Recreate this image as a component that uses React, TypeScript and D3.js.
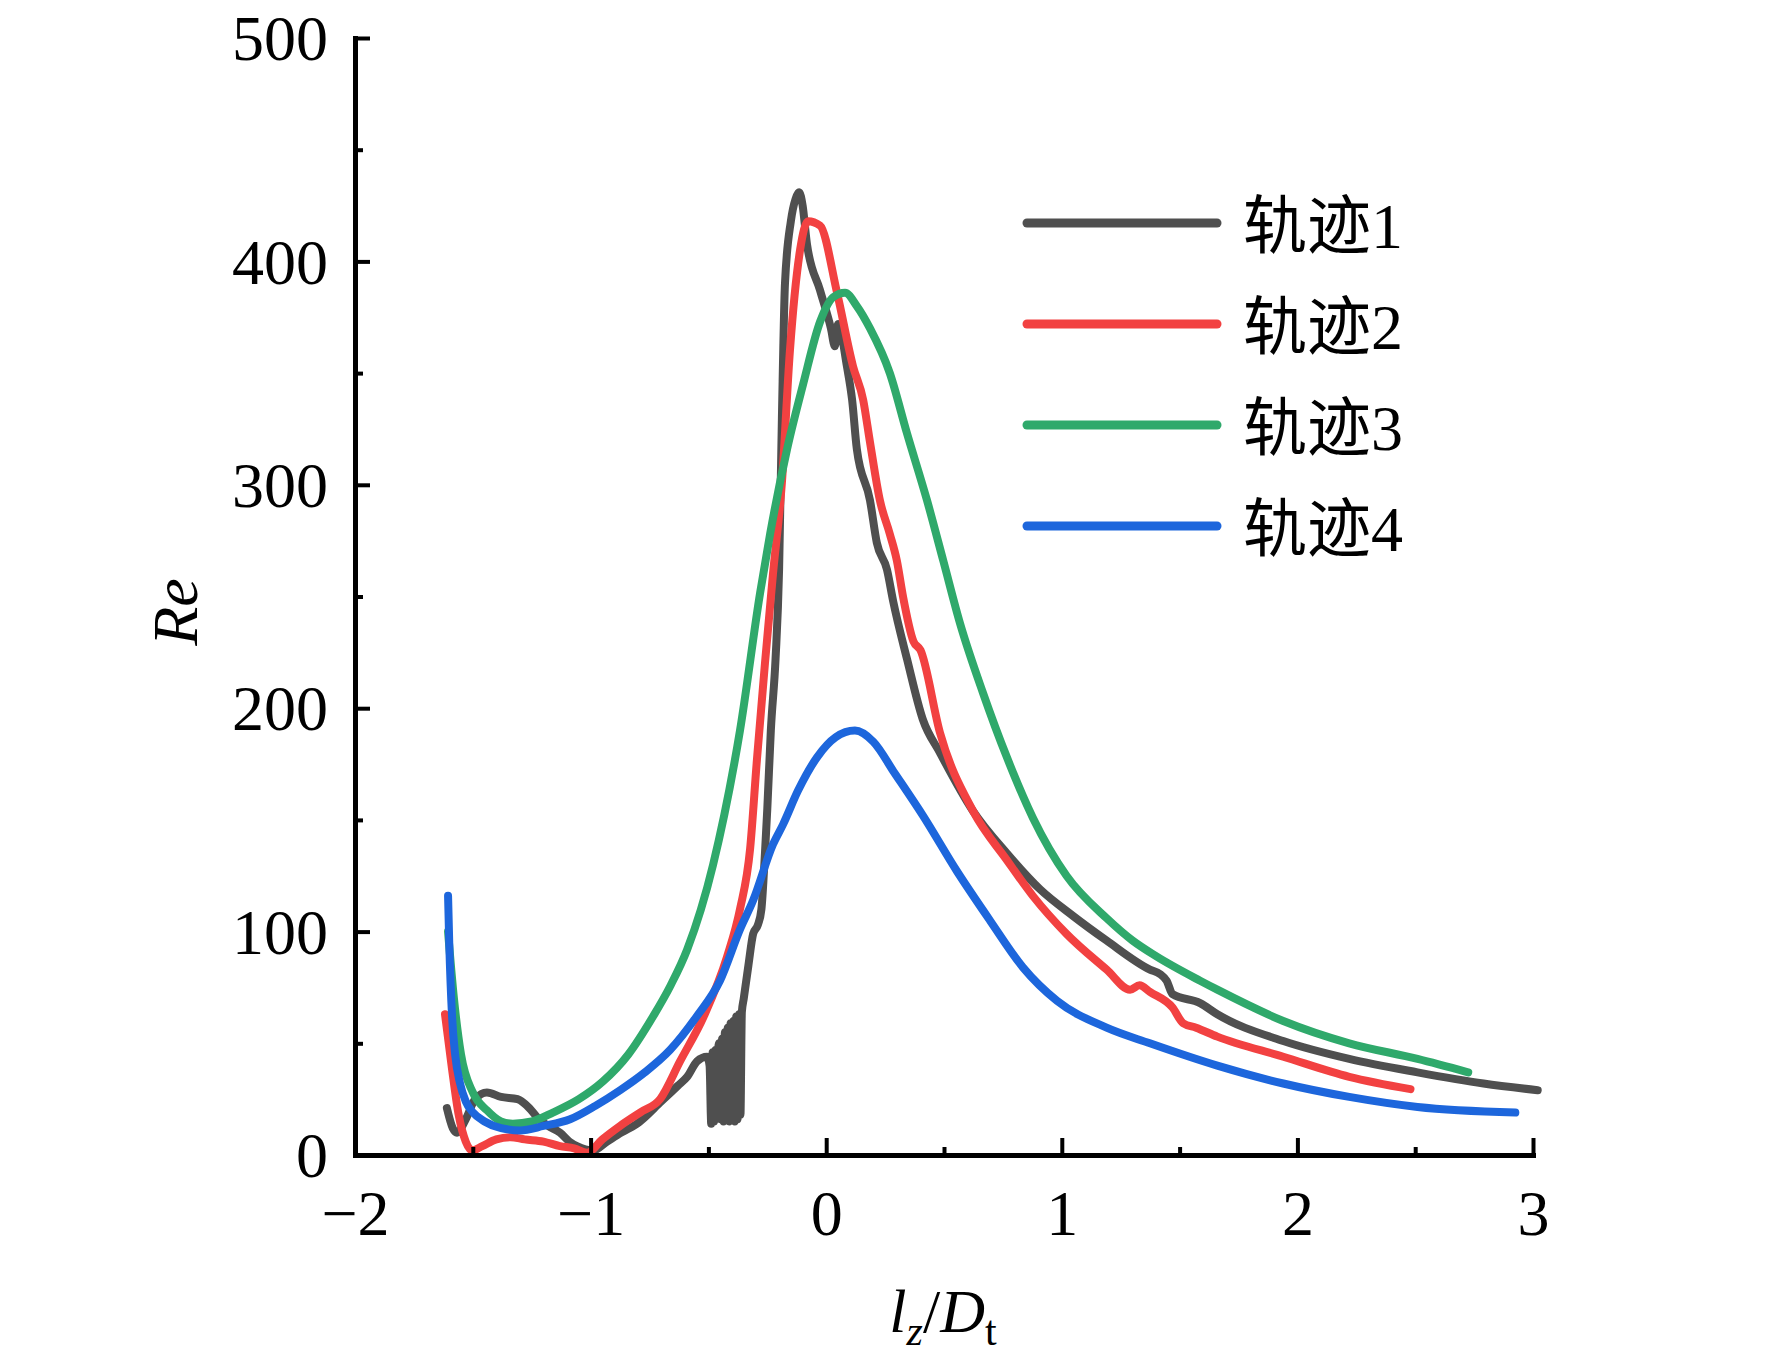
import React, { useRef, useEffect } from 'react';
import { select, scaleLinear, axisBottom, axisLeft, line, curveMonotoneX, range, format } from 'd3';

// lz/Dt vs Re, four trajectories
const seriesNames = ['轨迹1', '轨迹2', '轨迹3', '轨迹4'];
const seriesColors = ['#4f4f4f', '#f24141', '#2fa96b', '#1d66dc'];

const track1: [number, number][] = [
    [-1.61, 21], [-1.585, 12], [-1.567, 10], [-1.53, 16], [-1.49, 25], [-1.44, 28], [-1.38, 26], [-1.31, 25],
    [-1.26, 21], [-1.228, 17], [-1.18, 13], [-1.13, 10], [-1.09, 6], [-1.058, 4], [-0.99, 2], [-0.93, 6],
    [-0.87, 10], [-0.803, 14], [-0.7, 24], [-0.63, 31], [-0.59, 35], [-0.548, 42], [-0.506, 44], [-0.495, 40],
    [-0.488, 14], [-0.482, 46], [-0.476, 15], [-0.47, 47], [-0.462, 45], [-0.455, 50], [-0.448, 16], [-0.442, 52],
    [-0.436, 15], [-0.43, 55], [-0.424, 17], [-0.418, 57], [-0.412, 15], [-0.406, 59], [-0.4, 16], [-0.394, 60],
    [-0.388, 15], [-0.382, 62], [-0.376, 16], [-0.37, 63], [-0.364, 18], [-0.358, 64], [-0.35, 70], [-0.33, 85],
    [-0.31, 99], [-0.29, 103], [-0.275, 110], [-0.26, 135], [-0.25, 155], [-0.235, 190], [-0.215, 222],
    [-0.2, 262], [-0.188, 330], [-0.175, 390], [-0.15, 418], [-0.13, 428], [-0.115, 431], [-0.1, 425],
    [-0.082, 408], [-0.026, 387], [0.02, 370], [0.037, 362], [0.05, 372], [0.088, 353], [0.11, 338], [0.13, 316],
    [0.186, 293], [0.215, 274], [0.258, 262], [0.284, 248], [0.343, 222], [0.41, 195], [0.483, 180],
    [0.623, 154], [0.767, 135], [0.907, 119], [1.048, 107], [1.19, 96], [1.374, 83], [1.417, 81], [1.445, 78],
    [1.47, 72], [1.587, 68], [1.66, 63], [1.94, 51], [2.22, 43], [2.51, 37], [2.79, 32], [3.02, 29],
];

const track2: [number, number][] = [
    [-1.618, 63], [-1.59, 40], [-1.56, 18], [-1.53, 6], [-1.503, 2], [-1.46, 4], [-1.4, 7], [-1.34, 8],
    [-1.28, 7], [-1.2, 6], [-1.13, 4], [-1.07, 3], [-1.015, 1], [-0.95, 7], [-0.875, 13], [-0.79, 19],
    [-0.705, 25], [-0.62, 42], [-0.52, 62], [-0.42, 89], [-0.366, 110], [-0.323, 137], [-0.294, 177],
    [-0.26, 220], [-0.226, 260], [-0.188, 301], [-0.154, 360], [-0.111, 405], [-0.077, 418], [-0.026, 416],
    [0.046, 386], [0.114, 353], [0.157, 338], [0.186, 319], [0.228, 293], [0.27, 278], [0.3, 266], [0.326, 250],
    [0.37, 230], [0.4, 226], [0.483, 189], [0.623, 154], [0.767, 132], [0.877, 116], [1.02, 99], [1.19, 83],
    [1.29, 74], [1.33, 76], [1.374, 73], [1.47, 66], [1.515, 59], [1.57, 57], [1.66, 53], [1.94, 44],
    [2.22, 35], [2.48, 29.5],
];

const track3: [number, number][] = [
    [-1.605, 100], [-1.58, 70], [-1.55, 45], [-1.5, 28], [-1.44, 20], [-1.38, 15], [-1.33, 14], [-1.25, 15],
    [-1.16, 19], [-1.05, 25], [-0.947, 33], [-0.84, 45], [-0.735, 62], [-0.66, 76], [-0.59, 92], [-0.48, 130],
    [-0.366, 190], [-0.28, 252], [-0.238, 278], [-0.166, 316], [-0.098, 345], [-0.026, 373], [0.03, 384],
    [0.08, 386], [0.13, 380], [0.186, 370], [0.27, 350], [0.343, 323], [0.428, 293], [0.497, 266],
    [0.568, 238], [0.665, 207], [0.767, 178], [0.877, 151], [1.02, 125], [1.19, 106], [1.3, 96], [1.4, 89],
    [1.587, 78], [1.66, 74], [1.94, 60], [2.22, 50], [2.51, 43], [2.725, 37],
];

const track4: [number, number][] = [
    [-1.605, 116], [-1.6, 95], [-1.588, 62], [-1.575, 45], [-1.554, 32], [-1.53, 24], [-1.499, 19],
    [-1.45, 15], [-1.38, 12], [-1.3, 11], [-1.2, 13], [-1.087, 16], [-0.98, 22], [-0.875, 29], [-0.77, 37],
    [-0.663, 47], [-0.55, 62], [-0.451, 78], [-0.366, 101], [-0.31, 114], [-0.226, 139], [-0.183, 148],
    [-0.12, 163], [-0.039, 178], [0.04, 187], [0.122, 190], [0.2, 185], [0.29, 171], [0.41, 152],
    [0.555, 127], [0.695, 105], [0.835, 84], [0.98, 69], [1.19, 57], [1.374, 50], [1.66, 40], [1.94, 32],
    [2.22, 26], [2.51, 21.5], [2.925, 19],
];

const tracks = [track1, track2, track3, track4];
const xTicks = [-2, -1, 0, 1, 2, 3];
const yTicks = [0, 100, 200, 300, 400, 500];

const W = 1772;
const H = 1368;
const left = 355, right = 1533, top = 38, bottom = 1155;
const serif = "'Liberation Serif', 'Times New Roman', 'Noto Sans CJK SC', serif";

export default function App() {
    const svgRef: { current: SVGSVGElement | null } = useRef(null);

    useEffect(() => {
        const svg = select(svgRef.current);
        const x: any = scaleLinear().domain([-2, 3]).range([left, right]);
        const y: any = scaleLinear().domain([0, 500]).range([bottom, top]);

        // minor ticks first, majors on top
        const xMinor: any = axisBottom(x).tickValues(range(-1.5, 3, 1)).tickSize(-8).tickFormat(() => '');
        const yMinor: any = axisLeft(y).tickValues(range(50, 500, 100)).tickSize(-8).tickFormat(() => '');
        svg.select('.x-minor').attr('transform', `translate(0,${bottom})`).call(xMinor);
        svg.select('.y-minor').attr('transform', `translate(${left},0)`).call(yMinor);
        svg.selectAll('.x-minor .domain, .y-minor .domain').remove();

        const xAxis: any = axisBottom(x).tickValues(xTicks).tickFormat(format('d')).tickSize(-17).tickSizeOuter(0).tickPadding(35);
        const yAxis: any = axisLeft(y).tickValues(yTicks).tickFormat(format('d')).tickSize(-15).tickSizeOuter(0).tickPadding(27);
        svg.select('.x-axis').attr('transform', `translate(0,${bottom})`).call(xAxis);
        svg.select('.y-axis').attr('transform', `translate(${left},0)`).call(yAxis);

        svg.selectAll('.x-axis, .y-axis, .x-minor, .y-minor')
            .attr('font-family', serif)
            .attr('font-size', 64);
        svg.selectAll('.tick line').attr('stroke', '#000').attr('stroke-width', 4);
        svg.selectAll('.domain').attr('stroke', '#000').attr('stroke-width', 5).attr('stroke-linecap', 'square');
        svg.selectAll('.tick text').attr('fill', '#000');
        svg.selectAll('.y-axis .tick text').attr('dy', '0.34em');

        const path = line<[number, number]>()
            .x((p) => x(p[0]))
            .y((p) => y(p[1]))
            .curve(curveMonotoneX);

        svg.select('.lines')
            .selectAll('path')
            .data(tracks)
            .join('path')
            .attr('d', (d) => path(d))
            .attr('fill', 'none')
            .attr('stroke', (d, i) => seriesColors[i])
            .attr('stroke-width', 8)
            .attr('stroke-linejoin', 'round')
            .attr('stroke-linecap', 'round');

        const legend = svg.select('.legend')
            .selectAll('g')
            .data(seriesNames)
            .join('g')
            .attr('transform', (d, i) => `translate(1027,${223 + i * 101})`);
        legend.selectAll('line')
            .data((d) => [d])
            .join('line')
            .attr('x1', 0)
            .attr('x2', 190)
            .attr('stroke', (d) => seriesColors[seriesNames.indexOf(d)])
            .attr('stroke-width', 9)
            .attr('stroke-linecap', 'round');
        legend.selectAll('text')
            .data((d) => [d])
            .join('text')
            .attr('x', 216)
            .attr('y', 25)
            .attr('font-family', serif)
            .attr('font-size', 64)
            .text((d) => d);
    }, []);

    return (
        <svg ref={svgRef} width={W} height={H} style={{ position: 'absolute', left: 0, top: 0, display: 'block', background: '#fff' }}>
            <g className="lines" />
            <g className="x-minor" />
            <g className="y-minor" />
            <g className="x-axis" />
            <g className="y-axis" />
            <g className="legend" />
            <text transform="translate(197,612) rotate(-90)" textAnchor="middle" fontFamily={serif} fontSize={64} fontStyle="italic">
                Re
            </text>
            <text x={943} y={1332} textAnchor="middle" fontFamily={serif} fontSize={62}>
                <tspan fontStyle="italic">l</tspan>
                <tspan fontStyle="italic" fontSize={42} dy={13}>z</tspan>
                <tspan dy={-13}>/</tspan>
                <tspan fontStyle="italic">D</tspan>
                <tspan fontSize={42} dy={13}>t</tspan>
            </text>
        </svg>
    );
}
